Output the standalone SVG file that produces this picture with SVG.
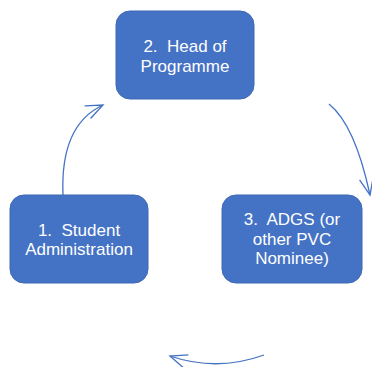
<svg xmlns="http://www.w3.org/2000/svg" width="372" height="367" viewBox="0 0 372 367">
<style>
.box{fill:#4472C4;stroke:#3F69B5;stroke-width:1}
.lbl{fill:#FFFFFF;font-family:"Liberation Sans",Arial,sans-serif;font-size:17px;text-anchor:middle;white-space:pre}
.conn{fill:none;stroke:#4472C4;stroke-width:1.3}
</style>
<defs>
<marker id="arr" markerUnits="userSpaceOnUse" markerWidth="24" markerHeight="24" refX="0" refY="0" viewBox="-20 -12 24 24" orient="auto">
<path d="M-17,-7 L0,0 L-17,7" fill="none" stroke="#4472C4" stroke-width="1.3"/>
</marker>
</defs>
<g id="connectors">
<path class="conn" d="M63,195 Q60,125 103,105" marker-end="url(#arr)"/>
<path class="conn" d="M329,104 Q355,125 370,195" marker-end="url(#arr)"/>
<path class="conn" d="M264,355 Q217,372 170,356" marker-end="url(#arr)"/>
</g>
<g id="node2">
<rect class="box" x="116" y="11" width="138" height="88" rx="14"/>
<text class="lbl" x="185" y="52" xml:space="preserve">2.  Head of</text>
<text class="lbl" x="185" y="72">Programme</text>
</g>
<g id="node1">
<rect class="box" x="10" y="195" width="138" height="88" rx="14"/>
<text class="lbl" x="79" y="236" xml:space="preserve">1.  Student</text>
<text class="lbl" x="79" y="255">Administration</text>
</g>
<g id="node3">
<rect class="box" x="222" y="195" width="140" height="88" rx="14"/>
<text class="lbl" x="292" y="225" xml:space="preserve">3.  ADGS (or</text>
<text class="lbl" x="292" y="245">other PVC</text>
<text class="lbl" x="292" y="264">Nominee)</text>
</g>
</svg>
